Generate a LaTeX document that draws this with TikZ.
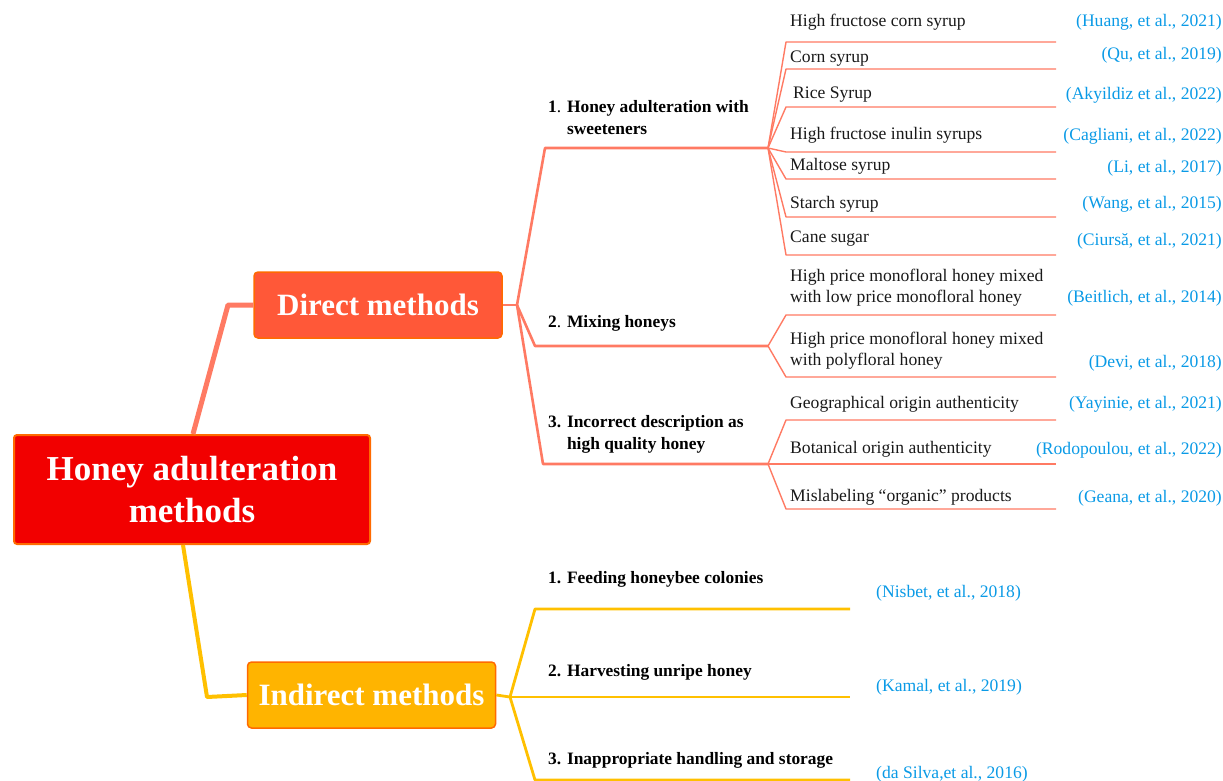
\documentclass[tikz,border=0pt]{standalone}
\usepackage{fontspec}
\setmainfont{Liberation Serif}
\definecolor{rootred}{HTML}{F20000}
\definecolor{boxborder}{HTML}{FF6A00}
\definecolor{directfill}{HTML}{FF5838}
\definecolor{indfill}{HTML}{FFB400}
\definecolor{salmon}{HTML}{FF7A63}
\definecolor{goldline}{HTML}{FFC000}
\definecolor{citeblue}{HTML}{0A9AE6}
\tikzset{
  rootbox/.style={draw=boxborder, line width=2pt, fill=rootred, rounded corners=3pt, text=white,
    font=\fontsize{35}{42}\selectfont\bfseries, align=center, minimum width=356pt, minimum height=109pt, inner sep=0pt},
  catbox/.style={draw=boxborder, line width=1.5pt, rounded corners=4pt, text=white,
    font=\fontsize{31}{34}\selectfont\bfseries, minimum width=248pt, minimum height=66pt, inner sep=0pt},
  branchlabel/.style={anchor=west, align=left, inner sep=0pt, font=\fontsize{17.4}{22}\selectfont},
  leaftext/.style={anchor=west, align=left, inner sep=0pt, font=\fontsize{17.6}{21}\selectfont, text=black!90},
  citetext/.style={anchor=east, inner sep=0pt, font=\fontsize{17.6}{21}\selectfont, text=citeblue},
  citeleft/.style={anchor=west, inner sep=0pt, font=\fontsize{17.6}{21}\selectfont, text=citeblue},
  mainred/.style={draw=salmon, line width=5pt},
  maingold/.style={draw=goldline, line width=4pt},
  subred/.style={draw=salmon, line width=2.6pt},
  subgold/.style={draw=goldline, line width=2.8pt},
  leafline/.style={draw=salmon, line width=1.4pt},
}
\begin{document}
\begin{tikzpicture}[x=1pt, y=-1pt]
\useasboundingbox (0,0) rectangle (1223,781);

% main boxes
\node[rootbox] (root) at (192,489.5) {Honey adulteration\\methods};
\node[catbox, fill=directfill] (direct) at (378,305) {Direct methods};
\node[catbox, fill=indfill] (indirect) at (371.5,695) {Indirect methods};

% root connectors
\coordinate (rdbend) at (228,305);
\coordinate (ribend) at (207,697);
\draw[mainred, line join=round] ([xshift=1pt]root.north) -- (rdbend) -- (direct.west);
\draw[maingold, line join=round] ([xshift=-9pt]root.south) -- (ribend) -- (indirect.west);

% direct junction and branches
\coordinate (dj) at (517,305);
\coordinate (d1bend) at (545,148);
\coordinate (d1) at (768,148);
\coordinate (d2bend) at (535,346);
\coordinate (d2) at (768,346);
\coordinate (d3bend) at (543,464);
\coordinate (d3) at (768,464);
\draw[subred, line join=round] (direct.east) -- (dj);
\draw[subred, line join=round] (dj) -- (d1bend) -- (d1);
\draw[subred, line join=round] (dj) -- (d2bend) -- (d2);
\draw[subred, line join=round] (dj) -- (d3bend) -- (d3);

\node[branchlabel] (b1) at (548,118) {\textbf{1}. \textbf{Honey adulteration with}\\\phantom{\textbf{1}. }\textbf{sweeteners}};
\node[branchlabel] (b2) at (548,323) {\textbf{2}. \textbf{Mixing honeys}};
\node[branchlabel] (b3) at (548,434) {\textbf{3. Incorrect description as}\\\phantom{\textbf{3. }}\textbf{high quality honey}};

% leaves of branch 1
\foreach \i/\y in {1/42, 2/69, 3/107, 4/152, 5/179, 6/217, 7/255} {
  \coordinate (l1s\i) at (786,\y);
  \coordinate (l1e\i) at (1056,\y);
  \draw[leafline, line join=round] (d1) -- (l1s\i) -- (l1e\i);
}
\node[leaftext] (t11) at (790,22) {High fructose corn syrup};
\node[leaftext] (t12) at (790,59) {Corn syrup};
\node[leaftext] (t13) at (793,95) {Rice Syrup};
\node[leaftext] (t14) at (790,135) {High fructose inulin syrups};
\node[leaftext] (t15) at (790,166) {Maltose syrup};
\node[leaftext] (t16) at (790,204) {Starch syrup};
\node[leaftext] (t17) at (790,239) {Cane sugar};
\node[citetext] (c11) at (1222,22) {(Huang, et al., 2021)};
\node[citetext] (c12) at (1222,55) {(Qu, et al., 2019)};
\node[citetext] (c13) at (1222,95) {(Akyildiz et al., 2022)};
\node[citetext] (c14) at (1222,136) {(Cagliani, et al., 2022)};
\node[citetext] (c15) at (1222,168) {(Li, et al., 2017)};
\node[citetext] (c16) at (1222,204) {(Wang, et al., 2015)};
\node[citetext] (c17) at (1222,241) {(Ciursă, et al., 2021)};

% leaves of branch 2
\foreach \i/\y in {1/315, 2/377} {
  \coordinate (l2s\i) at (786,\y);
  \coordinate (l2e\i) at (1056,\y);
  \draw[leafline, line join=round] (d2) -- (l2s\i) -- (l2e\i);
}
\node[leaftext] (t21) at (790,287.5) {High price monofloral honey mixed\\with low price monofloral honey};
\node[leaftext] (t22) at (790,350.5) {High price monofloral honey mixed\\with polyfloral honey};
\node[citetext] (c21) at (1222,298) {(Beitlich, et al., 2014)};
\node[citetext] (c22) at (1222,363) {(Devi, et al., 2018)};

% leaves of branch 3
\foreach \i/\y in {1/420, 2/464, 3/509} {
  \coordinate (l3s\i) at (786,\y);
  \coordinate (l3e\i) at (1056,\y);
  \draw[leafline, line join=round] (d3) -- (l3s\i) -- (l3e\i);
}
\node[leaftext] (t31) at (790,404) {Geographical origin authenticity};
\node[leaftext] (t32) at (790,449) {Botanical origin authenticity};
\node[leaftext] (t33) at (790,497) {Mislabeling “organic” products};
\node[citetext] (c31) at (1222,404) {(Yayinie, et al., 2021)};
\node[citetext] (c32) at (1222,450) {(Rodopoulou, et al., 2022)};
\node[citetext] (c33) at (1222,498) {(Geana, et al., 2020)};

% indirect branches
\coordinate (ij) at (510,697);
\coordinate (i1bend) at (535,609);
\coordinate (i1) at (850,609);
\coordinate (i2) at (850,697);
\coordinate (i3bend) at (535,780);
\coordinate (i3) at (850,780);
\draw[subgold, line join=round] (indirect.east) -- (ij);
\draw[subgold, line join=round] (ij) -- (i1bend) -- (i1);
\draw[subgold, line join=round] (ij) -- (i2);
\draw[subgold, line join=round] (ij) -- (i3bend) -- (i3);

\node[branchlabel] (ib1) at (548,579) {\textbf{1. Feeding honeybee colonies}};
\node[branchlabel] (ib2) at (548,672) {\textbf{2. Harvesting unripe honey}};
\node[branchlabel] (ib3) at (548,760) {\textbf{3. Inappropriate handling and storage}};
\node[citeleft] (ic1) at (876,593) {(Nisbet, et al., 2018)};
\node[citeleft] (ic2) at (876,687) {(Kamal, et al., 2019)};
\node[citeleft] (ic3) at (876,774) {(da Silva,et al., 2016)};
\end{tikzpicture}
\end{document}
